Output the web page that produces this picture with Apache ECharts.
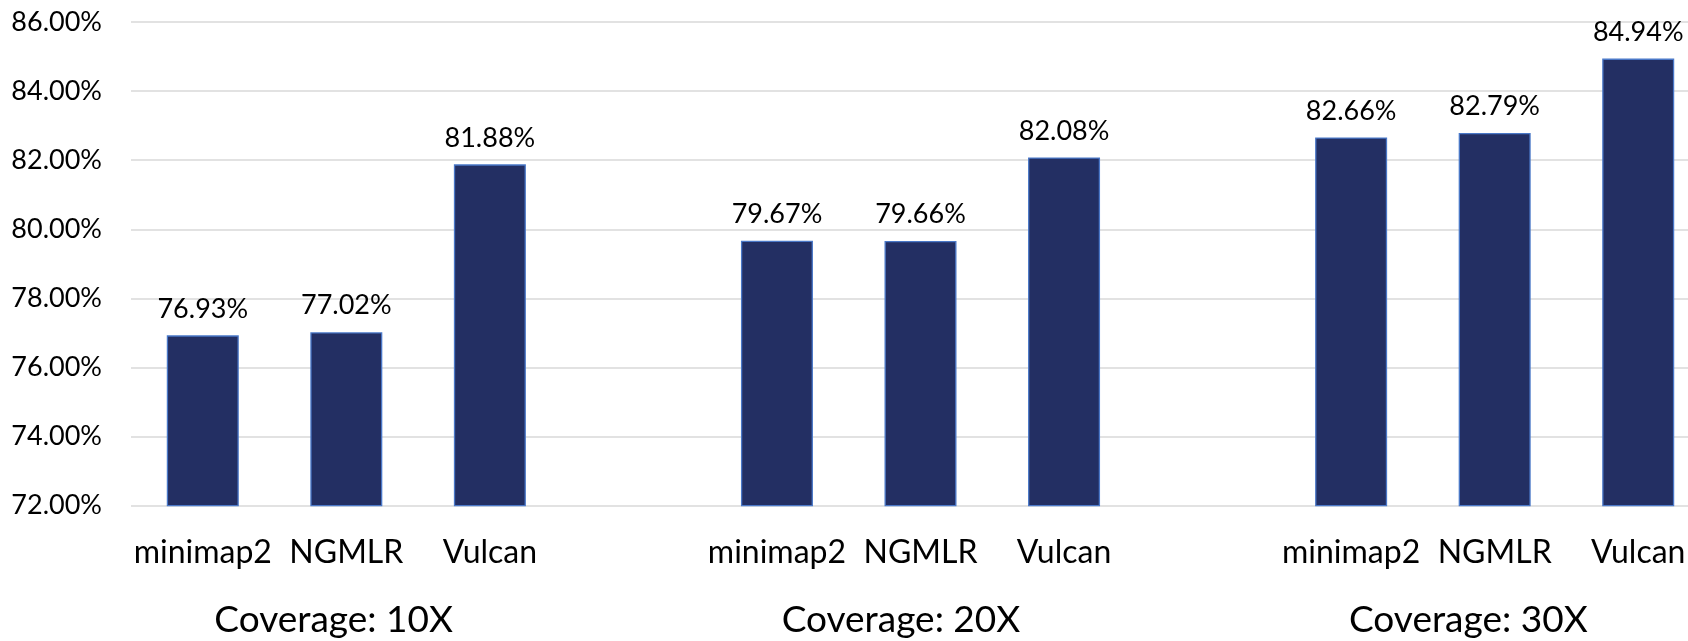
<!DOCTYPE html>
<html>
<head>
<meta charset="utf-8">
<script src="https://cdn.jsdelivr.net/npm/echarts@6/dist/echarts.min.js"></script>
<style>
  html, body { margin: 0; padding: 0; background: #fff; overflow: hidden; width: 1688px; height: 641px; }
  #chart { width: 1710px; height: 641px; }
</style>
</head>
<body>
<div id="chart"></div>
<script>
// Aligners compared at each coverage depth
const methods = ['minimap2', 'NGMLR', 'Vulcan'];
const coverages = ['Coverage: 10X', 'Coverage: 20X', 'Coverage: 30X'];
const values10X = [76.93, 77.02, 81.88];
const values20X = [79.67, 79.66, 82.08];
const values30X = [82.66, 82.79, 84.94];
const yTicks = [72, 74, 76, 78, 80, 82, 84, 86];

// One empty slot separates the coverage groups on the category axis
const groups = [values10X, values20X, values30X];
const categories = [];
const barData = [];
groups.forEach((vals, g) => {
  if (g > 0) { categories.push(''); barData.push('-'); }
  methods.forEach((m, i) => { categories.push(m); barData.push(vals[i]); });
});

const FONT = 'Lato, "Liberation Sans", sans-serif';
const TEXT = '#000000';

const chart = echarts.init(document.getElementById('chart'), null, { renderer: 'canvas' });
chart.setOption({
  animation: false,
  backgroundColor: '#ffffff',
  grid: [
    { left: 131, right: 0, top: 22, height: 483.7, outerBoundsMode: 'none', containLabel: false },
    { left: 50, width: 1702, top: 22, height: 483.7, outerBoundsMode: 'none', containLabel: false }
  ],
  xAxis: [
    {
      type: 'category', gridIndex: 0, data: categories, boundaryGap: true,
      axisLine: { show: false }, axisTick: { show: false },
      axisLabel: { interval: 0, margin: 31, fontFamily: FONT, fontSize: 32, color: TEXT }
    },
    {
      type: 'category', gridIndex: 1, data: coverages, boundaryGap: true,
      axisLine: { show: false }, axisTick: { show: false },
      axisLabel: { interval: 0, margin: 96, fontFamily: FONT, fontSize: 37, color: TEXT }
    }
  ],
  yAxis: [
    {
      type: 'value', gridIndex: 0, min: yTicks[0], max: yTicks[yTicks.length - 1], interval: 2,
      axisLine: { show: false }, axisTick: { show: false },
      splitLine: { show: true, lineStyle: { color: '#d9d9d9', width: 1.5 } },
      axisLabel: {
        margin: 29, fontFamily: FONT, fontSize: 27, color: TEXT,
        formatter: v => v.toFixed(2) + '%'
      }
    },
    { type: 'value', gridIndex: 1, show: false, min: 0, max: 1 }
  ],
  series: [
    {
      type: 'bar', xAxisIndex: 0, yAxisIndex: 0, data: barData, barWidth: 72,
      itemStyle: { color: '#232f63', borderColor: '#4a78c8', borderWidth: 1.3 },
      label: {
        show: true, position: 'top', distance: 13,
        fontFamily: FONT, fontSize: 27, color: TEXT,
        formatter: p => p.value.toFixed(2) + '%'
      }
    }
  ]
});
</script>
</body>
</html>
